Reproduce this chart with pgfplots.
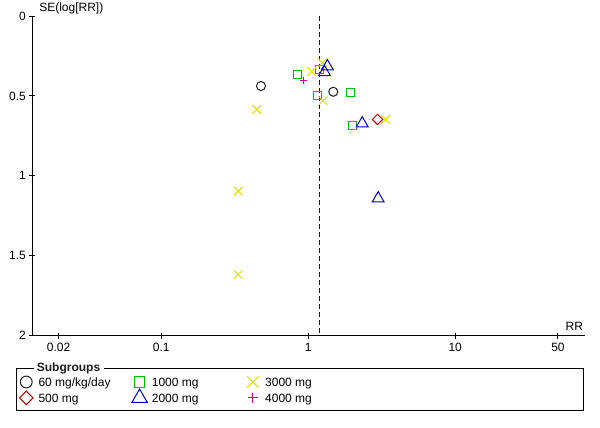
\documentclass[border=0pt]{standalone}
\usepackage{pgfplots}
\pgfplotsset{compat=1.18}
\usepackage{fontspec}
\setmainfont{Liberation Sans}
\definecolor{cYel}{RGB}{222,222,0}
\definecolor{cGrn}{RGB}{0,190,0}
\definecolor{cBlu}{RGB}{0,0,200}
\definecolor{cRed}{RGB}{204,0,0}
\definecolor{cMag}{RGB}{190,0,190}
\definecolor{cBlk}{RGB}{30,30,30}
\definecolor{cDash}{RGB}{0,0,170}
\begin{document}
\begin{tikzpicture}[x=1pt,y=1pt]
\path[use as bounding box] (0,0) rectangle (450,321);
\begin{axis}[
  at={(24.2pt,69.2pt)}, anchor=south west,
  width=414.5pt, height=239.8pt, scale only axis,
  xmode=log, xmin=0.01325, xmax=76.3,
  ymin=0, ymax=2, y dir=reverse,
  axis x line=bottom, axis y line=left,
  axis line style={-, line width=0.75pt, black},
  xtick={0.02,0.1,1,10,50}, xticklabels={0.02,0.1,1,10,50},
  ytick={0,0.5,1,1.5,2}, yticklabels={0,0.5,1,1.5,2},
  xminorticks=false, yminorticks=false,
  tick align=center, major tick length=4.5pt,
  tick style={line width=0.75pt, black},
  /pgf/number format/assume math mode=true,
  ticklabel style={font=\fontsize{9}{10}\selectfont},
  yticklabel style={xshift=1pt},
  xlabel={RR}, ylabel={SE(log[RR])},
  every axis x label/.style={at={(axis description cs:0.997,0.0304)}, anchor=east, inner sep=0pt, font=\fontsize{9}{10}\selectfont},
  every axis y label/.style={at={(axis description cs:0.0122,1.025)}, anchor=west, inner sep=0pt, font=\fontsize{9}{10}\selectfont},
  clip=false,
  legend columns=3,
  legend cell align=left,
  legend style={draw=none, fill=none, inner sep=0pt, row sep=0.3pt, column sep=0pt,
    font=\fontsize{9}{10}\selectfont,
    at={(axis description cs:-0.0258,-0.1230)}, anchor=north west,
    nodes={inner sep=0pt, text height=6.4pt, text depth=0pt}},
  legend image code/.code={\path[draw=none,fill=none] (-6pt,-5pt) rectangle (6pt,5pt); \draw[#1, every mark/.append style={scale=1.3}] plot coordinates {(0pt,0pt)};},
]
\addplot[forget plot, dash pattern=on 4pt off 2pt, color=cDash, line width=0.75pt] coordinates {(1.188,0) (1.188,2)};

% 60 mg/kg/day
\addplot[only marks, mark=o, mark size=3.4pt, color=cBlk, mark options={line width=0.75pt}] coordinates {
(0.477,0.438) (1.48,0.474)};
\addlegendentry{\makebox[73pt][l]{\hspace{3.2pt}60 mg/kg/day}}
% 1000 mg
\addplot[only marks, mark=square, mark size=3.0pt, color=cGrn, mark options={line width=0.75pt}] coordinates {
(0.842,0.363) (1.20,0.333) (1.15,0.495) (1.93,0.478) (1.99,0.688)};
\addlegendentry{\makebox[73pt][l]{\hspace{3.2pt}1000 mg}}
% 3000 mg
\addplot[only marks, mark=x, mark size=4.6pt, color=cYel, mark options={line width=0.75pt}] coordinates {
(1.054,0.348) (1.25,0.293) (1.26,0.53) (0.446,0.584) (3.36,0.647) (0.334,1.095) (0.334,1.617)};
\addlegendentry{\makebox[73pt][l]{\hspace{3.2pt}3000 mg}}
% 500 mg
\addplot[only marks, mark=square, mark size=2.75pt, color=cRed, mark options={rotate=45, line width=0.75pt}] coordinates {
(2.96,0.647)};
\addlegendentry{\makebox[73pt][l]{\hspace{3.2pt}500 mg}}
% 2000 mg
\addplot[only marks, mark=triangle, mark size=5.1pt, color=cBlu, mark options={line width=0.75pt}] coordinates {
(1.35,0.315) (1.29,0.352) (2.33,0.672) (2.99,1.141)};
\addlegendentry{\makebox[73pt][l]{\hspace{3.2pt}2000 mg}}
% 4000 mg
\addplot[only marks, mark=+, mark size=2.8pt, color=cMag, mark options={line width=0.75pt}] coordinates {
(0.925,0.405)};
\addlegendentry{\makebox[73pt][l]{\hspace{3.2pt}4000 mg}}
\end{axis}
\draw[line width=0.75pt, black] (12.2,12.75) rectangle (437.3,44.8);
\node[fill=white, inner xsep=2.5pt, inner ysep=1pt, text=cBlk, font=\bfseries\fontsize{9}{10}\selectfont] at (51.4,45) {Subgroups};
\end{tikzpicture}
\end{document}
